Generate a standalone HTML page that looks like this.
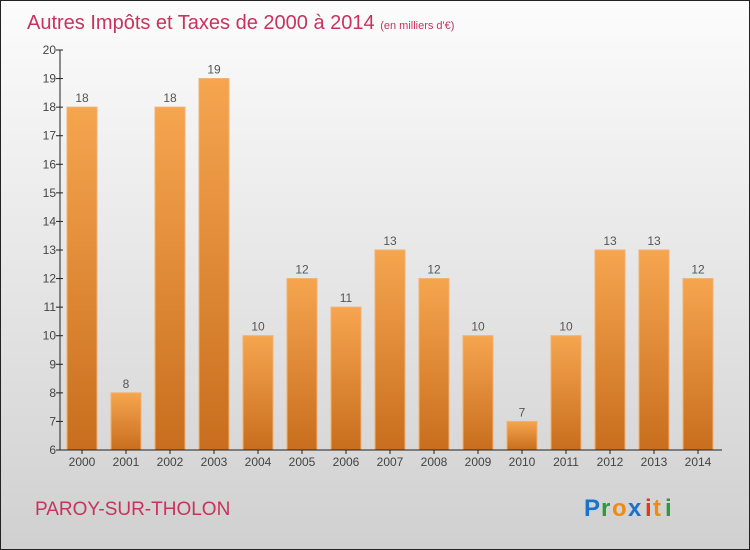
<!DOCTYPE html>
<html><head><meta charset="utf-8"><style>
body{margin:0}
#c{position:relative;width:748px;height:548px;border:1px solid #222;background:linear-gradient(#fcfcfc,#d0d0d0);font-family:"Liberation Sans",sans-serif;overflow:hidden}
</style></head><body>
<div id="c">
<svg width="748" height="548" id="svg">
<defs><linearGradient id="bg" x1="0" y1="0" x2="0" y2="1"><stop offset="0" stop-color="#f6a54f"/><stop offset="1" stop-color="#c86e1e"/></linearGradient></defs>
<text x="26" y="28" font-size="20" fill="#c8325e">Autres Impôts et Taxes de 2000 à 2014 <tspan font-size="11">(en milliers d'€)</tspan></text>
<text x="34" y="514" font-size="19" fill="#c8325e">PAROY-SUR-THOLON</text>
<g font-size="24" font-weight="bold"><text x="583" y="515" fill="#1a73c8">P</text><text x="600" y="515" fill="#2a9a3a">r</text><text x="611" y="515" fill="#f08a10">o</text><text x="627" y="515" fill="#1a73c8">x</text><text x="644" y="515" fill="#e03a1a">i</text><text x="652" y="515" fill="#f08a10">t</text><text x="664" y="515" fill="#2a9a3a">i</text></g>
<g id="plot"></g>
</svg></div>
<script>
const categories=["2000","2001","2002","2003","2004","2005","2006","2007","2008","2009","2010","2011","2012","2013","2014"];
const values=[18,8,18,19,10,12,11,13,12,10,7,10,13,13,12];
const yTicks=[6,7,8,9,10,11,12,13,14,15,16,17,18,19,20];
const yMin=6,yMax=20,plotTop=49,plotBottom=449,plotAxisX=59;
const y=v=>plotBottom-(v-yMin)/(yMax-yMin)*(plotBottom-plotTop);
const x=i=>81+i*44;
const g=document.getElementById('plot'),NS='http://www.w3.org/2000/svg';
function mk(t,a){const e=document.createElementNS(NS,t);for(const k in a)e.setAttribute(k,a[k]);g.appendChild(e);return e;}
values.forEach((v,i)=>{
const r=mk('rect',{x:x(i)-15,y:y(v),width:30,height:plotBottom-y(v),fill:'url(#bg)',stroke:'#f2b070','stroke-width':1});


const t=mk('text',{x:x(i),y:y(v)-5,'text-anchor':'middle','font-size':12,fill:'#555'});t.textContent=v;


const c=mk('text',{x:x(i),y:plotBottom+16,'text-anchor':'middle','font-size':12,fill:'#444'});c.textContent=categories[i];


const tk=mk('line',{x1:x(i),x2:x(i),y1:plotBottom,y2:plotBottom+4,stroke:'#222'});


});
yTicks.forEach(v=>{
const l=mk('line',{x1:plotAxisX-4,x2:plotAxisX+3,y1:y(v),y2:y(v),stroke:'#222'});


const t=mk('text',{x:plotAxisX-4,y:y(v)+4,'text-anchor':'end','font-size':12,fill:'#444'});t.textContent=v;


});
const ya=mk('line',{x1:plotAxisX,x2:plotAxisX,y1:plotTop,y2:plotBottom,stroke:'#222'});


const xa=mk('line',{x1:plotAxisX,x2:721,y1:plotBottom,y2:plotBottom,stroke:'#222'});


</script>
</body></html>
